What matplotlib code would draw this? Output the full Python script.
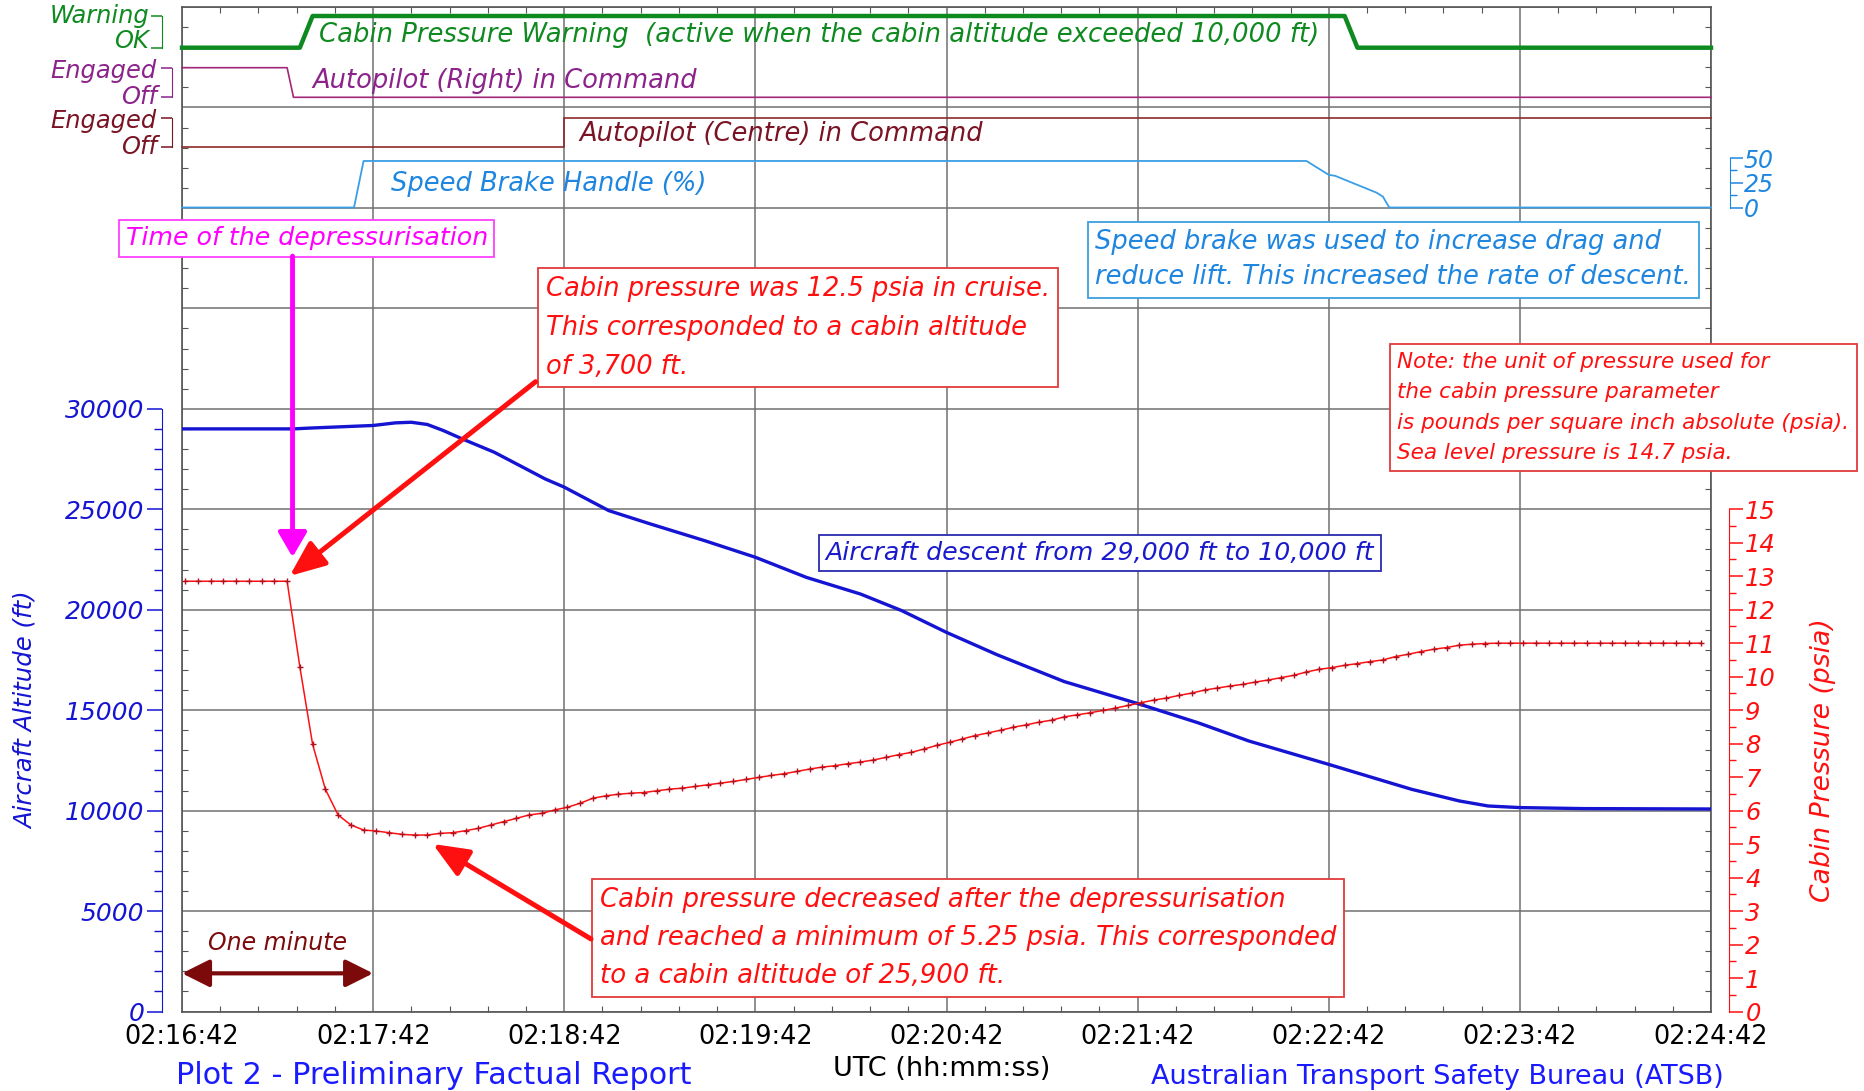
import numpy as np
import matplotlib.pyplot as plt
from matplotlib import transforms
from matplotlib.ticker import MultipleLocator, FixedLocator

plt.rcParams['font.family'] = ['DejaVu Sans']

# time is in seconds after 02:16:42 UTC
time_ticks_s = [0, 60, 120, 180, 240, 300, 360, 420, 480]
time_labels = ["02:16:42", "02:17:42", "02:18:42", "02:19:42", "02:20:42",
               "02:21:42", "02:22:42", "02:23:42", "02:24:42"]

# aircraft altitude (ft)
alt_time_s = [0, 35, 40, 60, 67, 72, 77, 82, 88, 98, 108, 114, 120, 128, 134, 147,
              164, 180, 196, 213, 226, 240, 256, 277, 300, 319, 335, 360, 386, 401,
              410, 420, 440, 480]
alt_ft = [29000, 29000, 29040, 29170, 29300, 29330, 29220, 28920, 28500, 27840, 27010,
          26510, 26100, 25430, 24930, 24270, 23440, 22610, 21610, 20780, 19950, 18870,
          17750, 16420, 15330, 14370, 13460, 12300, 11060, 10480, 10230, 10150, 10100,
          10080]

# cabin pressure (psia), one recorded sample every 4 s starting at +1 s
press_time_s = np.arange(1, 480, 4)
press_psia = [12.85, 12.85, 12.85, 12.85, 12.85, 12.85, 12.85, 12.85, 12.85,
              10.29, 7.98, 6.64, 5.87, 5.57, 5.42, 5.39, 5.34, 5.29, 5.27, 5.27,
              5.32, 5.34, 5.40, 5.47, 5.57, 5.67, 5.77, 5.87, 5.92, 6.02, 6.10,
              6.22, 6.37, 6.44, 6.49, 6.52, 6.54, 6.59, 6.64, 6.67, 6.72, 6.77,
              6.82, 6.87, 6.93, 6.99, 7.05, 7.10, 7.17, 7.24, 7.30, 7.34, 7.40,
              7.45, 7.51, 7.59, 7.67, 7.74, 7.84, 7.95, 8.04, 8.14, 8.24, 8.32,
              8.40, 8.49, 8.56, 8.64, 8.70, 8.80, 8.86, 8.92, 8.99, 9.06, 9.14,
              9.22, 9.30, 9.36, 9.44, 9.51, 9.60, 9.66, 9.72, 9.77, 9.84, 9.90,
              9.97, 10.04, 10.14, 10.22, 10.27, 10.34, 10.39, 10.45, 10.50, 10.60,
              10.67, 10.75, 10.82, 10.87, 10.94, 10.97, 10.99,
              11.0, 11.0, 11.0, 11.0, 11.0, 11.0, 11.0, 11.0, 11.0, 11.0, 11.0,
              11.0, 11.0, 11.0, 11.0, 11.0, 11.0]

# discrete parameters
warn_time_s = [0, 37, 41, 365, 369, 480]
warn_state = [0, 0, 1, 1, 0, 0]          # 0 = OK, 1 = Warning
ap_right_time_s = [0, 33, 35, 480]
ap_right_state = [1, 1, 0, 0]            # 1 = Engaged
ap_centre_time_s = [0, 120, 120, 480]
ap_centre_state = [0, 0, 1, 1]
speedbrake_time_s = [0, 54, 57, 353, 360, 362, 375, 377, 379, 480]
speedbrake_pct = [0, 0, 47, 47, 33, 32, 15, 11, 0, 0]

GREEN = '#0f8a20'
PURPLE = '#8b238b'
DARKRED = '#7a1424'
SKY = '#1f86e0'
BLUE = '#1414d2'
RED = '#ff1010'
MAGENTA = '#ff00ff'

W, H = 1864, 1091
fig = plt.figure(figsize=(W / 100, H / 100), dpi=100)
X0, X1 = 182, 1711


def rect(top_px, bottom_px):
    return [X0 / W, 1 - bottom_px / H, (X1 - X0) / W, (bottom_px - top_px) / H]


def overlay(top_px, bottom_px):
    a = fig.add_axes(rect(top_px, bottom_px))
    a.patch.set_visible(False)
    a.set_xlim(0, 480)
    a.set_xticks([])
    for s in a.spines.values():
        s.set_visible(False)
    return a


# main frame: altitude units, 0 to 50000 ft over the whole frame
ax = fig.add_axes(rect(7, 1011.5))
ax.set_xlim(0, 480)
ax.set_ylim(0, 50000)
ax.set_xticks(time_ticks_s)
ax.set_xticklabels(time_labels)
ax.set_yticks(range(0, 50001, 5000))
ax.xaxis.set_minor_locator(MultipleLocator(12))
ax.yaxis.set_minor_locator(MultipleLocator(1000))
ax.tick_params(which='major', length=0, labelleft=False)
ax.tick_params(axis='x', which='major', labelsize=18.4, pad=9)
ax.tick_params(which='minor', direction='in', length=4.5, width=0.8, color='#555555',
               top=True, bottom=True, left=True, right=True)
ax.grid(True, which='major', color='#707070', lw=1.1)
for s in ax.spines.values():
    s.set_color('#555555')
    s.set_linewidth(1.2)
ax.plot(alt_time_s, alt_ft, color=BLUE, lw=2.4, zorder=3)

# altitude scale (left, offset)
ax_alt = overlay(7, 1011.5)
ax_alt.set_ylim(0, 50000)
ax_alt.spines['left'].set_visible(True)
ax_alt.spines['left'].set_position(('outward', 14.2))
ax_alt.spines['left'].set_bounds(0, 30000)
ax_alt.spines['left'].set_color(BLUE)
ax_alt.set_yticks(range(0, 30001, 5000))
ax_alt.set_yticklabels([str(v) for v in range(0, 30001, 5000)], fontstyle='italic')
ax_alt.yaxis.set_minor_locator(FixedLocator(range(0, 30001, 1000)))
ax_alt.tick_params(axis='y', which='major', length=11, width=1.1, color=BLUE,
                   labelcolor=BLUE, labelsize=18, pad=2)
ax_alt.tick_params(axis='y', which='minor', length=6, width=1, color=BLUE)
ax_alt.set_ylabel("Aircraft Altitude (ft)", color=BLUE, fontsize=17.6, fontstyle='italic')
ax_alt.yaxis.set_label_coords(-0.094, 0.30)

# cabin pressure scale (right, offset): 15 psia sits at the 25000 ft grid line
ax_p = overlay(7, 1011.5)
ax_p.set_ylim(0, 30)
ax_p.yaxis.tick_right()
ax_p.yaxis.set_label_position('right')
ax_p.spines['right'].set_visible(True)
ax_p.spines['right'].set_position(('outward', 12.7))
ax_p.spines['right'].set_bounds(0, 15)
ax_p.spines['right'].set_color(RED)
ax_p.set_yticks(range(0, 16))
ax_p.set_yticklabels([str(v) for v in range(0, 16)], fontstyle='italic')
ax_p.yaxis.set_minor_locator(FixedLocator(np.arange(0.5, 15, 1.0)))
ax_p.tick_params(axis='y', which='major', length=10, width=1.1, color=RED,
                 labelcolor=RED, labelsize=17.5, pad=2)
ax_p.tick_params(axis='y', which='minor', length=5, width=1, color=RED)
ax_p.set_ylabel("Cabin Pressure (psia)", color=RED, fontsize=19.2, fontstyle='italic')
ax_p.yaxis.set_label_coords(1.065, 0.25)
ax_p.plot(press_time_s, press_psia, color=RED, lw=1.1, marker='+', ms=5,
          mec='#b01020', mew=1, zorder=4)

# discrete strips
ax_w = overlay(16, 47.7)
ax_w.set_ylim(0, 1)
ax_w.plot(warn_time_s, warn_state, color=GREEN, lw=3.2, clip_on=False)

ax_r = overlay(67.7, 97.3)
ax_r.set_ylim(0, 1)
ax_r.plot(ap_right_time_s, ap_right_state, color='#a3287a', lw=1.2, clip_on=False)

ax_c = overlay(118.3, 147)
ax_c.set_ylim(0, 1)
ax_c.plot(ap_centre_time_s, ap_centre_state, color='#8c2a2a', lw=1.2, clip_on=False)

# bracket scales; (label, y in strip units, vertical alignment)
strips = [(ax_w, 14.7, -0.0216, GREEN, [('OK', 0.0, 'baseline'), ('Warning', 1.0, 'center')]),
          (ax_r, 7.2, -0.0164, PURPLE, [('Off', 0.01, 'center'), ('Engaged', 0.905, 'center')]),
          (ax_c, 7.2, -0.0164, DARKRED, [('Off', -0.017, 'center'), ('Engaged', 0.889, 'center')])]
for a, off, xlab, col, labs in strips:
    a.spines['left'].set_visible(True)
    a.spines['left'].set_position(('outward', off))
    a.spines['left'].set_bounds(0, 1)
    a.spines['left'].set_color(col)
    a.set_yticks([0, 1])
    a.tick_params(axis='y', length=8, width=1.1, color=col, labelleft=False)
    tr = transforms.blended_transform_factory(a.transAxes, a.transData)
    for txt, yv, va in labs:
        a.text(xlab, yv, txt, transform=tr, ha='right', va=va, color=col,
               fontsize=17.4, fontstyle='italic', clip_on=False)

ax_sb = overlay(158, 207.5)
ax_sb.set_ylim(0, 50)
ax_sb.plot(speedbrake_time_s, speedbrake_pct, color='#3a9ee6', lw=1.3, clip_on=False)
ax_sb.yaxis.tick_right()
ax_sb.spines['right'].set_visible(True)
ax_sb.spines['right'].set_position(('outward', 13.7))
ax_sb.spines['right'].set_bounds(0, 50)
ax_sb.spines['right'].set_color(SKY)
ax_sb.set_yticks([0, 25, 50])
ax_sb.set_yticklabels(['0', '25', '50'], fontstyle='italic')
ax_sb.yaxis.set_minor_locator(FixedLocator([12.5, 37.5]))
ax_sb.tick_params(axis='y', which='major', length=9, width=1.1, color=SKY,
                  labelcolor=SKY, labelsize=17, pad=1)
ax_sb.tick_params(axis='y', which='minor', length=5, width=1, color=SKY)

# strip captions
ax.text(42.9, 48630, "Cabin Pressure Warning  (active when the cabin altitude exceeded 10,000 ft)",
        color=GREEN, fontsize=18.6, fontstyle='italic', va='center', zorder=5)
ax.text(41.0, 46320, "Autopilot (Right) in Command", color=PURPLE, fontsize=18.5,
        fontstyle='italic', va='center', zorder=5)
ax.text(124.6, 43680, "Autopilot (Centre) in Command", color=DARKRED, fontsize=18.5,
        fontstyle='italic', va='center', zorder=5)
ax.text(65.6, 41190, "Speed Brake Handle (%)", color=SKY, fontsize=18.5,
        fontstyle='italic', va='center', zorder=5)

# annotations
ax.text(39.2, 38480, "Time of the depressurisation", color=MAGENTA, fontsize=18.2,
        fontstyle='italic', ha='center', va='center', zorder=6,
        bbox=dict(boxstyle='square,pad=0.25', fc='white', ec='#ff40ff', lw=1.3))
ax.annotate('', xy=(34.7, 22620), xytext=(34.7, 37600),
            arrowprops=dict(arrowstyle='-|>,head_length=0.6,head_width=0.35',
                            mutation_scale=25, color=MAGENTA, lw=3.5,
                            shrinkA=0, shrinkB=0), zorder=6)

ax.text(114.3, 34040, "Cabin pressure was 12.5 psia in cruise.\n"
        "This corresponded to a cabin altitude\nof 3,700 ft.",
        color=RED, fontsize=18.5, fontstyle='italic', va='center', linespacing=1.65,
        zorder=6, bbox=dict(boxstyle='square,pad=0.3', fc='white', ec='#e23a3a', lw=1.3))
ax.annotate('', xy=(33.8, 21680), xytext=(111.0, 31350),
            arrowprops=dict(arrowstyle='-|>,head_length=0.6,head_width=0.25',
                            mutation_scale=36, color=RED, lw=3.6,
                            shrinkA=0, shrinkB=0), zorder=6)

ax.text(288.2, 22820, "Aircraft descent from 29,000 ft to 10,000 ft", color='#1a1acc',
        fontsize=18.2, fontstyle='italic', ha='center', va='center', zorder=6,
        bbox=dict(boxstyle='square,pad=0.25', fc='white', ec='#2a2ab0', lw=1.3))

ax.text(286.7, 37420, "Speed brake was used to increase drag and\n"
        "reduce lift. This increased the rate of descent.",
        color=SKY, fontsize=18.5, fontstyle='italic', va='center', linespacing=1.45,
        zorder=6, bbox=dict(boxstyle='square,pad=0.3', fc='white', ec='#3aa0e0', lw=1.3))

ax.text(381.5, 30070, "Note: the unit of pressure used for\nthe cabin pressure parameter\n"
        "is pounds per square inch absolute (psia).\nSea level pressure is 14.7 psia.",
        color=RED, fontsize=15.5, fontstyle='italic', va='center', linespacing=1.65,
        zorder=6, bbox=dict(boxstyle='square,pad=0.35', fc='white', ec='#e23a3a', lw=1.3))

ax.text(131.2, 3660, "Cabin pressure decreased after the depressurisation\n"
        "and reached a minimum of 5.25 psia. This corresponded\n"
        "to a cabin altitude of 25,900 ft.",
        color=RED, fontsize=18.7, fontstyle='italic', va='center', linespacing=1.62,
        zorder=6, bbox=dict(boxstyle='square,pad=0.3', fc='white', ec='#e23a3a', lw=1.3))
ax.annotate('', xy=(78.7, 8340), xytext=(128.4, 3610),
            arrowprops=dict(arrowstyle='-|>,head_length=0.6,head_width=0.25',
                            mutation_scale=36, color=RED, lw=3.6,
                            shrinkA=0, shrinkB=0), zorder=6)

ax.text(30, 3400, "One minute", color='#7d0a0a', fontsize=17, fontstyle='italic',
        ha='center', va='center', zorder=6)
ax.annotate('', xy=(0, 1900), xytext=(60, 1900),
            arrowprops=dict(arrowstyle='<|-|>,head_length=0.6,head_width=0.3',
                            mutation_scale=28, color='#7d0a0a', lw=3,
                            shrinkA=0, shrinkB=0), zorder=6)

# footer
fig.text(176 / W, 1 - 1075 / H, "Plot 2 - Preliminary Factual Report", color='#1a1aff',
         fontsize=21.8, va='center')
fig.text(941.7 / W, 1 - 1069 / H, "UTC (hh:mm:ss)", color='black', fontsize=19.5,
         ha='center', va='center')
fig.text(1151 / W, 1 - 1077 / H, "Australian Transport Safety Bureau (ATSB)",
         color='#1a1aff', fontsize=19.5, va='center')

fig.savefig("out.png", dpi=100)
